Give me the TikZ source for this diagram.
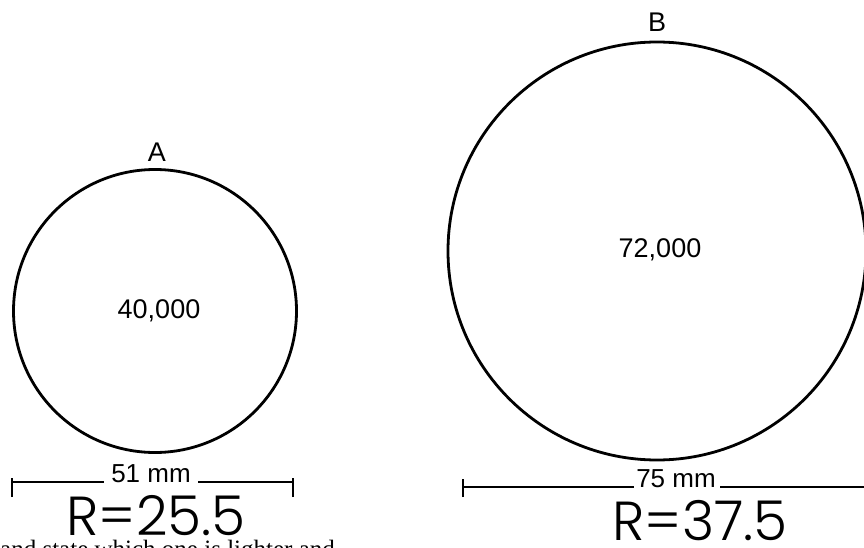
\documentclass[tikz,border=0pt]{standalone}
\usepackage{fontspec}
\setmainfont{Liberation Sans}
\newfontfamily\handfont{Poppins Light}
\newfontfamily\bookfont{Liberation Serif}
\begin{document}
\begin{tikzpicture}[x=1pt,y=-1pt,
  ring/.style={draw=black,line width=2.8pt,circle,inner sep=0pt},
  lbl/.style={font=\fontsize{27}{27}\selectfont,inner sep=0pt},
  dimtxt/.style={font=\fontsize{26}{26}\selectfont,inner sep=0pt,anchor=base},
  hand/.style={font=\handfont\fontsize{55}{55}\selectfont,inner sep=0pt},
  dimline/.style={draw=black,line width=1.5pt},
  tick/.style={draw=black,line width=1.7pt}]
\useasboundingbox (0,0) rectangle (864,548);
\clip (0,0) rectangle (864,548);
% circles
\node[ring,minimum size=283pt] (cA) at (155,311) {};
\node[ring,minimum size=418pt] (cB) at (657,251) {};
\node[lbl] (vA) at (159,311) {40,000};
\node[lbl] (vB) at (660,250) {72,000};
\node[lbl,anchor=south] (tA) at (157,162) {A};
\node[lbl,anchor=south] (tB) at (657,32) {B};
% dimension A
\coordinate (a1) at (12,482);
\coordinate (a2) at (293,482);
\node[dimtxt] (dA) at (151,482) {51 mm};
\draw[dimline] (a1) -- (dA.base west -| 104,0) ;
\draw[dimline] (dA.base east -| 198,0) -- (a2);
\draw[tick] ([yshift=-15]a1) -- ([yshift=4]a1);
\draw[tick] ([yshift=-15]a2) -- ([yshift=4]a2);
% dimension B
\coordinate (b1) at (463,487);
\coordinate (b2) at (870,487);
\node[dimtxt] (dB) at (676,487) {75 mm};
\draw[dimline] (b1) -- (dB.base west -| 634,0);
\draw[dimline] (dB.base east -| 720,0) -- (b2);
\draw[tick] ([yshift=-10]b1) -- ([yshift=8]b1);
% handwritten radii
\node[hand,anchor=base] (rA) at (156,535) {R=25.5};
\node[hand,anchor=base] (rB) at (700,540) {R=37.5};
% cut-off text line
\node[font=\bookfont\fontsize{25}{25}\selectfont,anchor=base west,inner sep=0pt] (cut) at (0,557) {and state which one is lighter and};
\end{tikzpicture}
\end{document}
